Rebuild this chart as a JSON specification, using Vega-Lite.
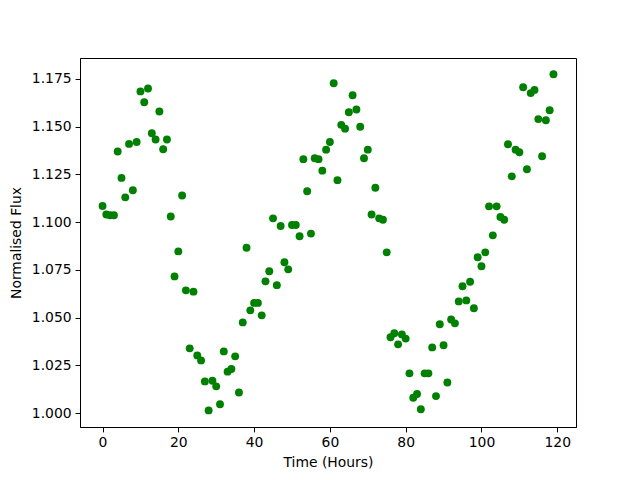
{
  "$schema": "https://vega.github.io/schema/vega-lite/v6.json",
  "width": 496,
  "height": 369,
  "autosize": {"type": "none"},
  "padding": {"left": 80, "top": 58, "right": 64, "bottom": 53},
  "background": "white",
  "config": {
    "view": {"stroke": "black", "strokeWidth": 1},
    "axis": {
      "grid": false,
      "domainColor": "black",
      "tickColor": "black",
      "tickSize": 4.9,
      "labelFont": "DejaVu Sans",
      "labelFontSize": 13.9,
      "labelColor": "black",
      "labelPadding": 4,
      "titleFont": "DejaVu Sans",
      "titleFontSize": 13.9,
      "titleFontWeight": "normal",
      "titleColor": "black"
    }
  },
  "data": {"values": [
    {"t":0,"f":1.1085},{"t":1,"f":1.1040},{"t":2,"f":1.1036},{"t":3,"f":1.1036},{"t":4,"f":1.1370},
    {"t":5,"f":1.1232},{"t":6,"f":1.1130},{"t":7,"f":1.1410},{"t":8,"f":1.1167},{"t":9,"f":1.1420},
    {"t":10,"f":1.1685},{"t":11,"f":1.1628},{"t":12,"f":1.1700},{"t":13,"f":1.1466},{"t":14,"f":1.1433},
    {"t":15,"f":1.1580},{"t":16,"f":1.1382},{"t":17,"f":1.1433},{"t":18,"f":1.1030},{"t":19,"f":1.0716},
    {"t":20,"f":1.0847},{"t":21,"f":1.1140},{"t":22,"f":1.0643},{"t":23,"f":1.0339},{"t":24,"f":1.0636},
    {"t":25,"f":1.0302},{"t":26,"f":1.0276},{"t":27,"f":1.0166},{"t":28,"f":1.0014},{"t":29,"f":1.0169},
    {"t":30,"f":1.0140},{"t":31,"f":1.0046},{"t":32,"f":1.0323},{"t":33,"f":1.0217},{"t":34,"f":1.0231},
    {"t":35,"f":1.0297},{"t":36,"f":1.0108},{"t":37,"f":1.0475},{"t":38,"f":1.0866},{"t":39,"f":1.0538},
    {"t":40,"f":1.0577},{"t":41,"f":1.0577},{"t":42,"f":1.0512},{"t":43,"f":1.0690},{"t":44,"f":1.0743},
    {"t":45,"f":1.1020},{"t":46,"f":1.0670},{"t":47,"f":1.0980},{"t":48,"f":1.0790},{"t":49,"f":1.0753},
    {"t":50,"f":1.0985},{"t":51,"f":1.0985},{"t":52,"f":1.0926},{"t":53,"f":1.1330},{"t":54,"f":1.1162},
    {"t":55,"f":1.0940},{"t":56,"f":1.1335},{"t":57,"f":1.1330},{"t":58,"f":1.1270},{"t":59,"f":1.1380},
    {"t":60,"f":1.1420},{"t":61,"f":1.1728},{"t":62,"f":1.1220},{"t":63,"f":1.1510},{"t":64,"f":1.1490},
    {"t":65,"f":1.1576},{"t":66,"f":1.1665},{"t":67,"f":1.1590},{"t":68,"f":1.1500},{"t":69,"f":1.1335},
    {"t":70,"f":1.1380},{"t":71,"f":1.1040},{"t":72,"f":1.1180},{"t":73,"f":1.1020},{"t":74,"f":1.1013},
    {"t":75,"f":1.0842},{"t":76,"f":1.0397},{"t":77,"f":1.0418},{"t":78,"f":1.0360},{"t":79,"f":1.0412},
    {"t":80,"f":1.0390},{"t":81,"f":1.0208},{"t":82,"f":1.0080},{"t":83,"f":1.0100},{"t":84,"f":1.0020},
    {"t":85,"f":1.0208},{"t":86,"f":1.0208},{"t":87,"f":1.0344},{"t":88,"f":1.0089},{"t":89,"f":1.0465},
    {"t":90,"f":1.0355},{"t":91,"f":1.0160},{"t":92,"f":1.0490},{"t":93,"f":1.0470},{"t":94,"f":1.0585},
    {"t":95,"f":1.0664},{"t":96,"f":1.0590},{"t":97,"f":1.0688},{"t":98,"f":1.0549},{"t":99,"f":1.0816},
    {"t":100,"f":1.0769},{"t":101,"f":1.0842},{"t":102,"f":1.1083},{"t":103,"f":1.0931},{"t":104,"f":1.1083},
    {"t":105,"f":1.1027},{"t":106,"f":1.1013},{"t":107,"f":1.1408},{"t":108,"f":1.1240},{"t":109,"f":1.1380},
    {"t":110,"f":1.1366},{"t":111,"f":1.1707},{"t":112,"f":1.1277},{"t":113,"f":1.1676},{"t":114,"f":1.1693},
    {"t":115,"f":1.1540},{"t":116,"f":1.1345},{"t":117,"f":1.1534},{"t":118,"f":1.1586},{"t":119,"f":1.1775}
  ]},
  "mark": {"type": "point", "shape": "circle", "filled": true, "color": "#008000", "opacity": 1, "size": 62},
  "encoding": {
    "x": {
      "field": "t", "type": "quantitative",
      "scale": {"domain": [-5.95, 124.95], "nice": false, "zero": false},
      "axis": {"values": [0, 20, 40, 60, 80, 100, 120], "title": "Time (Hours)", "titlePadding": 6}
    },
    "y": {
      "field": "f", "type": "quantitative",
      "scale": {"domain": [0.9927, 1.1860], "nice": false, "zero": false},
      "axis": {"values": [1.0, 1.025, 1.05, 1.075, 1.1, 1.125, 1.15, 1.175], "format": ".3f", "title": "Normalised Flux", "titlePadding": 8}
    }
  }
}
